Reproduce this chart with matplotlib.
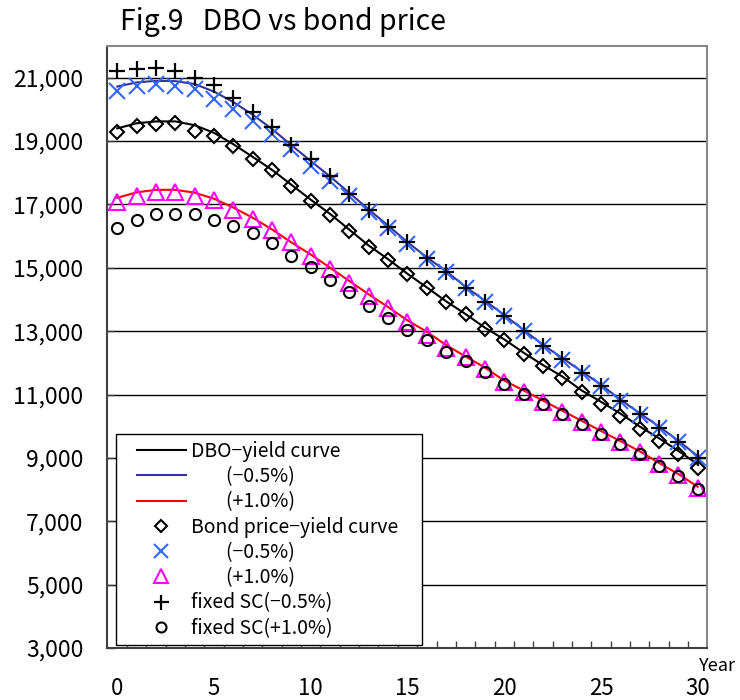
import numpy as np
import matplotlib.pyplot as plt
from matplotlib.patches import Rectangle
from matplotlib.ticker import FuncFormatter

plt.rcParams['font.family'] = ['Noto Sans CJK JP', 'DejaVu Sans']

years = np.arange(0, 31)

# DBO - yield curve (lines)
dbo_base = [19400, 19560, 19620, 19620, 19500, 19260, 18900, 18500, 18090, 17620,
            17150, 16700, 16200, 15700, 15270, 14810, 14380, 13940, 13540, 13110,
            12740, 12320, 11930, 11570, 11130, 10770, 10400, 9990, 9620, 9220, 8800]
dbo_m05 = [20720, 20850, 20900, 20890, 20800, 20560, 20230, 19830, 19380, 18870,
           18370, 17880, 17360, 16840, 16330, 15810, 15330, 14890, 14400, 13960,
           13510, 13040, 12570, 12150, 11730, 11310, 10840, 10410, 9990, 9540, 9060]
dbo_p10 = [17210, 17380, 17460, 17460, 17370, 17180, 16900, 16580, 16210, 15800,
           15420, 15000, 14580, 14160, 13760, 13340, 12980, 12560, 12200, 11850,
           11440, 11130, 10810, 10490, 10170, 9850, 9530, 9210, 8840, 8490, 8090]

# Bond price - yield curve (markers)
bond_base = [19270, 19460, 19540, 19570, 19330, 19156, 18830, 18445, 18073, 17590,
             17120, 16680, 16170, 15670, 15250, 14800, 14368, 13930, 13535, 13083,
             12714, 12284, 11892, 11526, 11071, 10714, 10335, 9915, 9546, 9135, 8684]
bond_m05 = [20570, 20735, 20800, 20745, 20631, 20325, 19999, 19640, 19210, 18760,
            18210, 17735, 17270, 16750, 16260, 15750, 15284, 14861, 14368, 13920,
            13471, 12998, 12524, 12104, 11684, 11261, 10787, 10367, 9947, 9492, 9000]
bond_p10 = [17078, 17273, 17394, 17394, 17273, 17131, 16815, 16551, 16194, 15805,
            15367, 14946, 14526, 14104, 13737, 13282, 12893, 12473, 12177, 11811,
            11380, 11070, 10760, 10440, 10120, 9810, 9490, 9170, 8800, 8450, 8040]

# fixed service cost
fixed_m05 = [21220, 21260, 21310, 21210, 21000, 20770, 20350, 19920, 19440, 18880,
             18420, 17910, 17320, 16810, 16290, 15810, 15310, 14860, 14350, 13920,
             13470, 13020, 12530, 12120, 11690, 11280, 10800, 10380, 9930, 9490, 8990]
fixed_p10 = [16263, 16515, 16710, 16705, 16705, 16515, 16314, 16083, 15767, 15378,
             15015, 14620, 14236, 13809, 13421, 13051, 12735, 12335, 12050, 11703,
             11337, 11030, 10714, 10399, 10083, 9767, 9451, 9135, 8756, 8419, 8030]

labels = ['DBO\u2212yield curve', '        (\u22120.5%)', '        (+1.0%)',
          'Bond price\u2212yield curve', '        (\u22120.5%)', '        (+1.0%)',
          'fixed SC(\u22120.5%)', 'fixed SC(+1.0%)']

fig = plt.figure(figsize=(7.4, 7.0), dpi=100)
ax = fig.add_axes([0.1446, 0.0743, 0.8108, 0.86])

h = []
h += ax.plot(years, dbo_base, color='black', lw=1.5)
h += ax.plot(years, dbo_m05, color='#333399', lw=1.5)
h += ax.plot(years, dbo_p10, color='#ff0000', lw=1.5)
h += ax.plot(years, bond_base, ls='none', marker='D', ms=7, mfc='none', mec='black', mew=1.5)
h += ax.plot(years, bond_m05, ls='none', marker='x', ms=11, mec='#3366ff', mew=1.5)
h += ax.plot(years, bond_p10, ls='none', marker='^', ms=11, mfc='none', mec='#ff00ff', mew=1.5)
h += ax.plot(years, fixed_m05, ls='none', marker='+', ms=12, mec='black', mew=1.6)
h += ax.plot(years, fixed_p10, ls='none', marker='o', ms=8, mfc='none', mec='black', mew=1.5)

ax.set_xlim(-0.53, 30.48)
ax.set_ylim(3000, 22000)
ax.set_yticks(np.arange(3000, 22000, 2000))
ax.yaxis.set_major_formatter(FuncFormatter(lambda v, p: '{:,.0f}'.format(v)))
ax.set_xticks(np.arange(0, 31, 5))
ax.set_xticks(np.arange(0.5, 30, 1), minor=True)
ax.tick_params(axis='x', which='major', length=0, pad=21, labelsize=16)
ax.tick_params(axis='x', which='minor', direction='in', length=5, width=1, color='#404040')
ax.tick_params(axis='y', direction='in', length=5, width=1, color='#404040', pad=17, labelsize=16.5)

ax.set_axisbelow(True)
ax.yaxis.grid(True, color='black', lw=1)

for side in ['left', 'bottom']:
    ax.spines[side].set_color('#404040')
    ax.spines[side].set_linewidth(1.5)
for side in ['top', 'right']:
    ax.spines[side].set_color('#888888')
    ax.spines[side].set_linewidth(1.5)

# legend box
ax.add_patch(Rectangle((0.015, 0.005), 0.51, 0.35, transform=ax.transAxes,
                       facecolor='white', edgecolor='black', lw=1, zorder=4))
ax.legend(h, labels, loc='upper left', bbox_to_anchor=(0.05, 0.344), borderaxespad=0,
          borderpad=0, frameon=False, fontsize=14, handlelength=2.5, handletextpad=0.3,
          labelspacing=0.22, markerscale=0.9).set_zorder(5)

fig.text(120 / 740, 1 - 22 / 700, 'Fig.9   DBO vs bond price', fontsize=20.5, va='center', ha='left')
fig.text(717 / 740, 1 - 666 / 700, 'Year', fontsize=13, va='center', ha='center')

plt.savefig('out.png', dpi=100)
